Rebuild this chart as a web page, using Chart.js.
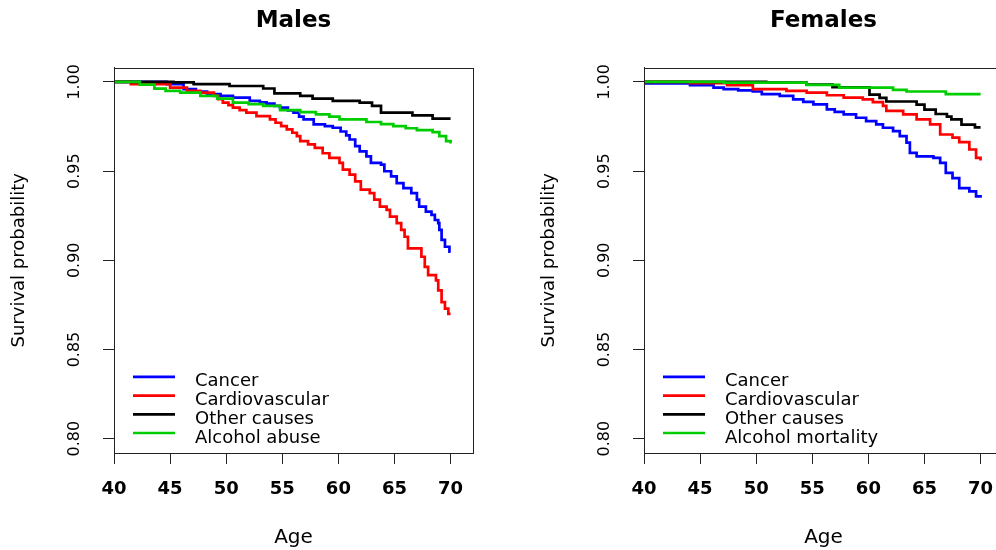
<!DOCTYPE html>
<html>
<head>
<meta charset="utf-8">
<script src="https://cdn.jsdelivr.net/npm/chart.js@4"></script>
<style>
  html, body { margin: 0; padding: 0; background: #fff; overflow: hidden; }
  #wrap { position: relative; width: 996px; height: 550px; overflow: hidden; }
  .panel { position: absolute; top: 0; width: 530px; height: 550px; }
</style>
</head>
<body>
<div id="wrap">
  <div class="panel" style="left:0"><canvas id="males" width="530" height="550"></canvas></div>
  <div class="panel" style="left:530px"><canvas id="females" width="530" height="550"></canvas></div>
</div>
<script>
// axis ticks
const ageTicks = [40, 45, 50, 55, 60, 65, 70];
const survTicks = [0.80, 0.85, 0.90, 0.95, 1.00];

const causeColors = ['#0000FF', '#FF0000', '#000000', '#00CD00'];
const maleCauses = ['Cancer', 'Cardiovascular', 'Other causes', 'Alcohol abuse'];
const femaleCauses = ['Cancer', 'Cardiovascular', 'Other causes', 'Alcohol mortality'];

// Kaplan-Meier curves, males (age at step, survival after step)
const mCancerAge  = [40, 44.7, 46.2, 47.3, 48.3, 49.5, 50.6, 52.1, 53.0, 53.6, 54.3, 54.8, 55.5, 56.0, 56.5, 56.9, 57.8, 58.8, 59.5, 60.2, 60.7, 61.0, 61.5, 61.9, 62.5, 62.9, 63.8, 64.1, 64.7, 65.2, 65.8, 66.5, 67.0, 67.2, 67.8, 68.3, 68.6, 68.9, 69.0, 69.2, 69.5, 69.9, 70];
const mCancerSurv = [1.000, 0.9987, 0.9959, 0.9945, 0.9931, 0.9921, 0.9912, 0.9893, 0.9885, 0.9878, 0.9866, 0.9856, 0.9840, 0.9828, 0.9805, 0.9790, 0.9762, 0.9752, 0.9743, 0.9722, 0.9700, 0.9677, 0.9640, 0.9611, 0.9583, 0.9546, 0.9536, 0.9499, 0.9470, 0.9433, 0.9405, 0.9377, 0.9340, 0.9301, 0.9273, 0.9255, 0.9226, 0.9208, 0.9170, 0.9114, 0.9076, 0.9048, 0.9048];

const mCardioAge  = [40, 41.5, 45.0, 46.5, 47.7, 48.9, 49.3, 49.7, 50.2, 50.6, 51.2, 51.8, 52.7, 53.9, 54.4, 54.9, 55.4, 55.9, 56.3, 56.6, 57.3, 57.9, 58.6, 59.2, 60.1, 60.4, 61.0, 61.5, 62.0, 62.8, 63.2, 63.7, 64.3, 64.6, 65.2, 65.6, 65.9, 66.2, 67.4, 67.7, 68.0, 68.7, 68.9, 69.2, 69.5, 69.8, 70];
const mCardioSurv = [1.000, 0.9987, 0.9968, 0.9949, 0.9940, 0.9921, 0.9903, 0.9884, 0.9870, 0.9856, 0.9842, 0.9828, 0.9808, 0.9790, 0.9771, 0.9752, 0.9734, 0.9715, 0.9696, 0.9668, 0.9650, 0.9630, 0.9600, 0.9574, 0.9546, 0.9508, 0.9480, 0.9442, 0.9396, 0.9377, 0.9340, 0.9301, 0.9283, 0.9245, 0.9208, 0.9170, 0.9132, 0.9067, 0.9020, 0.8963, 0.8917, 0.8888, 0.8832, 0.8766, 0.8729, 0.8700, 0.8700];

const mOtherAge  = [40, 45.3, 47.1, 50.3, 53.3, 54.3, 56.6, 57.7, 59.5, 61.9, 63.0, 63.8, 66.6, 68.4, 70];
const mOtherSurv = [1.000, 0.9997, 0.9987, 0.9977, 0.9963, 0.9935, 0.9921, 0.9906, 0.9893, 0.9884, 0.9865, 0.9828, 0.9812, 0.9794, 0.9794];

const mAlcoholAge  = [40, 42.3, 43.6, 44.6, 45.9, 47.7, 49.2, 50.6, 52.0, 53.3, 54.8, 56.6, 58.0, 59.2, 60.1, 62.5, 63.8, 64.9, 66.0, 67.0, 68.4, 69.0, 69.6, 70];
const mAlcoholSurv = [1.000, 0.9985, 0.9962, 0.9950, 0.9940, 0.9921, 0.9906, 0.9884, 0.9875, 0.9865, 0.9842, 0.9831, 0.9818, 0.9805, 0.9790, 0.9775, 0.9763, 0.9752, 0.9740, 0.9730, 0.9718, 0.9696, 0.9668, 0.9655];

// females
const fCancerAge  = [40, 44.1, 46.2, 47.1, 48.4, 49.7, 50.5, 52.1, 53.3, 54.2, 55.1, 56.3, 57.0, 57.8, 58.9, 59.8, 60.7, 61.3, 62.2, 62.8, 63.4, 63.7, 64.3, 65.8, 66.4, 66.9, 67.5, 68.1, 69.0, 69.6, 70];
const fCancerSurv = [0.9991, 0.9981, 0.9968, 0.9959, 0.9952, 0.9946, 0.9931, 0.9921, 0.9902, 0.9888, 0.9874, 0.9846, 0.9832, 0.9818, 0.9799, 0.9780, 0.9762, 0.9743, 0.9724, 0.9696, 0.9659, 0.9602, 0.9583, 0.9574, 0.9546, 0.9490, 0.9461, 0.9405, 0.9386, 0.9358, 0.9350];

const fCardioAge  = [40, 44.1, 47.4, 49.7, 52.7, 54.5, 56.3, 57.8, 59.5, 60.4, 61.3, 61.6, 63.1, 64.3, 65.5, 66.4, 67.5, 68.1, 69.0, 69.6, 70];
const fCardioSurv = [1.000, 0.9993, 0.9981, 0.9959, 0.9949, 0.9940, 0.9925, 0.9912, 0.9902, 0.9887, 0.9865, 0.9837, 0.9818, 0.9790, 0.9762, 0.9705, 0.9687, 0.9662, 0.9621, 0.9574, 0.9559];

const fOtherAge  = [40, 50.9, 54.5, 56.8, 60.1, 61.0, 61.6, 64.3, 65.0, 66.0, 67.0, 67.4, 68.3, 69.5, 70];
const fOtherSurv = [1.000, 0.9996, 0.9985, 0.9970, 0.9929, 0.9910, 0.9890, 0.9873, 0.9844, 0.9820, 0.9805, 0.9790, 0.9760, 0.9745, 0.9745];

const fAlcoholAge  = [40, 47.1, 54.5, 57.4, 62.2, 63.4, 66.9, 70];
const fAlcoholSurv = [1.000, 0.9996, 0.9983, 0.9968, 0.9955, 0.9946, 0.9931, 0.9931];

const FONT = 'DejaVu Sans';
Chart.defaults.font.family = FONT;
Chart.defaults.color = '#000';

function toPoints(ages, surv) {
  return ages.map((a, i) => ({ x: a, y: surv[i] }));
}

// full frame round the plotting region
const plotBox = {
  id: 'plotBox',
  afterDraw(chart) {
    const { ctx, chartArea: a } = chart;
    ctx.save();
    ctx.strokeStyle = '#222';
    ctx.lineWidth = 1;
    ctx.strokeRect(Math.round(a.left) + 0.5, Math.round(a.top) + 0.5,
      Math.round(a.right - a.left), Math.round(a.bottom - a.top));
    ctx.restore();
  }
};

// borderless legend sitting in the lower left of the plot
const cornerLegend = {
  id: 'cornerLegend',
  afterDraw(chart) {
    const { ctx, chartArea: a } = chart;
    const sets = chart.data.datasets;
    ctx.save();
    ctx.font = '18px "' + FONT + '"';
    ctx.textAlign = 'left';
    ctx.textBaseline = 'alphabetic';
    sets.forEach((ds, i) => {
      const y = a.bottom - 20 - (sets.length - 1 - i) * 18.7;
      ctx.strokeStyle = ds.borderColor;
      ctx.lineWidth = 2.7;
      ctx.beginPath();
      ctx.moveTo(a.left + 19, y);
      ctx.lineTo(a.left + 61, y);
      ctx.stroke();
      ctx.fillStyle = '#000';
      ctx.fillText(ds.label, a.left + 81, y + 9.5);
    });
    ctx.restore();
  }
};

function drawPanel(id, title, causes, curves) {
  const tickLine = { display: true, drawOnChartArea: false, drawTicks: true, tickLength: 11, color: '#222', lineWidth: 1 };
  return new Chart(document.getElementById(id), {
    type: 'line',
    data: {
      datasets: curves.map((c, i) => ({
        label: causes[i],
        data: toPoints(c[0], c[1]),
        borderColor: causeColors[i],
        borderWidth: 2.7,
        stepped: true,
        pointRadius: 0,
        fill: false,
        order: curves.length - 1 - i
      }))
    },
    options: {
      responsive: false,
      animation: false,
      devicePixelRatio: 1,
      layout: { padding: { top: 0, right: 57, bottom: 0, left: 0 } },
      plugins: {
        legend: { display: false },
        tooltip: { enabled: false },
        title: {
          display: true, text: title, fullSize: false,
          font: { size: 23, weight: 'bold' },
          padding: { top: 7, bottom: 33 }
        }
      },
      scales: {
        x: {
          type: 'linear', min: 40, max: 72,
          afterBuildTicks: s => { s.ticks = ageTicks.map(v => ({ value: v })); },
          afterFit: s => { s.height = 97; },
          ticks: { font: { size: 18, weight: 'bold' }, padding: 15, maxRotation: 0, autoSkip: false },
          grid: tickLine,
          border: { display: true, color: '#222', width: 1 },
          title: { display: true, text: 'Age', font: { size: 20 }, padding: { top: 0, bottom: 0 } }
        },
        y: {
          type: 'linear', min: 0.792, max: 1.008,
          afterBuildTicks: s => { s.ticks = survTicks.map(v => ({ value: v })); },
          afterFit: s => { s.width = 114; },
          ticks: {
            font: { size: 16 }, padding: 10, minRotation: 90, maxRotation: 90,
            crossAlign: 'center', autoSkip: false,
            callback: v => Number(v).toFixed(2)
          },
          grid: tickLine,
          border: { display: true, color: '#222', width: 1 },
          title: { display: true, text: 'Survival probability', font: { size: 18 }, padding: { top: 9, bottom: 0 } }
        }
      }
    },
    plugins: [plotBox, cornerLegend]
  });
}

drawPanel('males', 'Males', maleCauses, [
  [mCancerAge, mCancerSurv],
  [mCardioAge, mCardioSurv],
  [mOtherAge, mOtherSurv],
  [mAlcoholAge, mAlcoholSurv]
]);

drawPanel('females', 'Females', femaleCauses, [
  [fCancerAge, fCancerSurv],
  [fCardioAge, fCardioSurv],
  [fOtherAge, fOtherSurv],
  [fAlcoholAge, fAlcoholSurv]
]);
</script>
</body>
</html>
